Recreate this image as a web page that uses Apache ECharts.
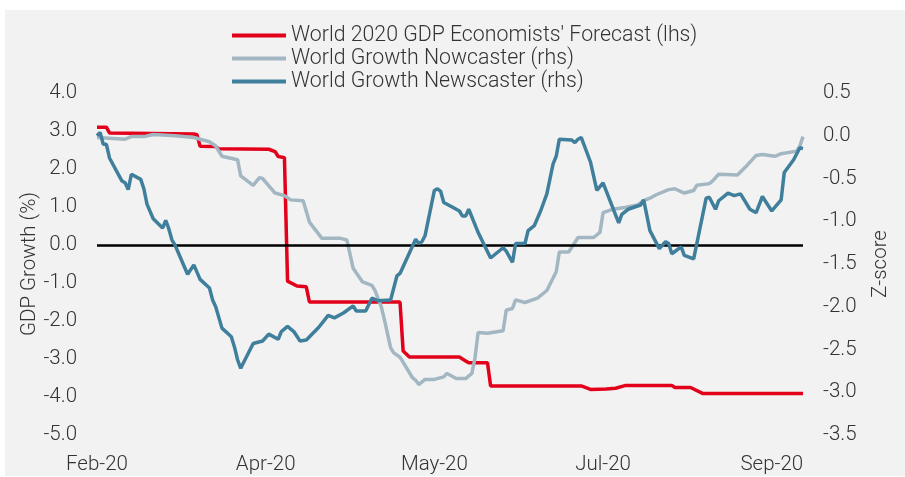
<!DOCTYPE html>
<html>
<head>
<meta charset="utf-8">
<script src="https://cdn.jsdelivr.net/npm/echarts@6/dist/echarts.min.js"></script>
<style>
html,body{margin:0;padding:0;background:#fff;}
#chart{width:905px;height:477px;}
</style>
</head>
<body>
<div id="chart"></div>
<script>
// x values are days counted from the first observation (Feb-20)
const xLabels = ['Feb-20', 'Apr-20', 'May-20', 'Jul-20', 'Sep-20'];
const xLabelDays = [0, 54, 108, 162, 216];
const xMaxDay = 226;

const seriesNames = [
  "World 2020 GDP Economists' Forecast (lhs)",
  'World Growth Nowcaster (rhs)',
  'World Growth Newscaster (rhs)'
];

// GDP growth forecast, % (left axis)
const forecast = [[0,3.10],[3,3.10],[4,2.95],[31,2.92],[32,2.90],[33,2.60],[38,2.59],[39,2.53],[55,2.52],[57,2.46],[58,2.33],[60,2.30],[61,-0.95],[64,-1.08],[67,-1.10],[68,-1.50],[97,-1.50],[98,-2.79],[100,-2.95],[116,-2.95],[118,-3.05],[119,-3.10],[125,-3.10],[126,-3.71],[155,-3.71],[158,-3.80],[163,-3.79],[166,-3.77],[169,-3.70],[184,-3.70],[185,-3.75],[190,-3.75],[194,-3.91],[226,-3.91]];

// Nowcaster z-score (right axis)
const nowcaster = [[0,-0.02],[9,-0.04],[11,-0.01],[15,-0.01],[18,0.015],[25,0.0],[31,-0.02],[36,-0.07],[38,-0.12],[40,-0.24],[45,-0.28],[46,-0.47],[50,-0.58],[52,-0.49],[53,-0.50],[57,-0.67],[60,-0.70],[62,-0.75],[66,-0.76],[68,-1.01],[72,-1.20],[78,-1.20],[80,-1.22],[82,-1.55],[85,-1.71],[88,-1.75],[89,-1.81],[91,-2.00],[92,-2.15],[94,-2.48],[95,-2.54],[97,-2.59],[101,-2.83],[102,-2.86],[103,-2.91],[105,-2.85],[108,-2.85],[111,-2.82],[112,-2.78],[115,-2.84],[118,-2.84],[120,-2.78],[121,-2.60],[122,-2.30],[125,-2.31],[130,-2.28],[131,-2.04],[133,-2.02],[134,-1.92],[137,-1.95],[141,-1.90],[144,-1.81],[147,-1.59],[148,-1.36],[151,-1.36],[154,-1.19],[159,-1.19],[161,-1.13],[162,-0.90],[165,-0.86],[169,-0.84],[173,-0.81],[175,-0.76],[177,-0.73],[179,-0.69],[183,-0.63],[185,-0.62],[188,-0.67],[191,-0.64],[192,-0.58],[196,-0.56],[197,-0.53],[199,-0.45],[205,-0.46],[208,-0.35],[211,-0.23],[213,-0.22],[217,-0.24],[219,-0.21],[224,-0.18],[225,-0.12],[226,-0.01]];

// Newscaster z-score (right axis)
const newscaster = [[0,0.0],[1,0.04],[2,-0.10],[3,-0.10],[4,-0.26],[8,-0.53],[9,-0.55],[10,-0.63],[11,-0.45],[14,-0.51],[15,-0.62],[16,-0.80],[18,-0.97],[21,-1.08],[22,-0.99],[23,-1.09],[24,-1.22],[25,-1.28],[29,-1.62],[31,-1.51],[33,-1.68],[36,-1.78],[37,-1.92],[38,-2.00],[40,-2.25],[43,-2.35],[44,-2.47],[45,-2.62],[46,-2.72],[50,-2.43],[53,-2.40],[55,-2.32],[58,-2.38],[59,-2.29],[61,-2.23],[63,-2.29],[65,-2.40],[67,-2.39],[71,-2.24],[74,-2.10],[76,-2.13],[79,-2.07],[82,-1.99],[83,-2.05],[86,-2.05],[88,-1.90],[90,-1.93],[94,-1.92],[96,-1.64],[97,-1.61],[102,-1.21],[103,-1.26],[104,-1.24],[105,-1.17],[108,-0.64],[109,-0.62],[110,-0.65],[111,-0.78],[114,-0.84],[116,-0.88],[117,-0.94],[118,-0.94],[119,-0.86],[122,-1.13],[124,-1.28],[126,-1.43],[130,-1.31],[131,-1.35],[133,-1.48],[134,-1.26],[137,-1.26],[138,-1.11],[140,-1.05],[142,-0.88],[144,-0.68],[146,-0.33],[147,-0.24],[148,-0.04],[152,-0.05],[153,-0.08],[154,-0.04],[155,-0.02],[158,-0.31],[160,-0.64],[162,-0.55],[167,-1.02],[168,-0.92],[170,-0.86],[174,-0.81],[175,-0.75],[177,-1.11],[180,-1.32],[182,-1.24],[183,-1.26],[184,-1.38],[187,-1.30],[188,-1.40],[191,-1.44],[195,-0.73],[196,-0.72],[198,-0.86],[199,-0.76],[202,-0.67],[204,-0.70],[206,-0.68],[209,-0.86],[211,-0.90],[213,-0.71],[216,-0.88],[219,-0.75],[220,-0.43],[223,-0.28],[225,-0.14],[226,-0.15]];

const FONT = 'Roboto, "Liberation Sans", sans-serif';
const TXT = '#333333';

const chart = echarts.init(document.getElementById('chart'), null, {renderer: 'canvas'});
chart.setOption({
  animation: false,
  backgroundColor: '#ffffff',
  graphic: [{
    type: 'rect', left: 5, top: 10, z: -10,
    shape: {width: 900, height: 466},
    style: {fill: '#f2f2f2'}
  }],
  legend: {
    orient: 'vertical',
    left: 232, top: 24, padding: 0,
    itemWidth: 54, itemHeight: 4, itemGap: 0,
    icon: 'rect',
    data: seriesNames,
    textStyle: {fontFamily: FONT, fontSize: 21.3, fontWeight: 300, color: TXT, lineHeight: 23}
  },
  grid: {left: 97, right: 102, top: 93, bottom: 42, containLabel: false},
  xAxis: {
    type: 'value', min: 0, max: xMaxDay, interval: 54,
    axisLine: {show: false}, axisTick: {show: false}, splitLine: {show: false},
    axisLabel: {
      margin: 19, fontFamily: FONT, fontSize: 20.5, fontWeight: 300, color: TXT,
      showMaxLabel: false,
      formatter: function (v) { const i = xLabelDays.indexOf(v); return i >= 0 ? xLabels[i] : ''; }
    }
  },
  yAxis: [{
    type: 'value', min: -5, max: 4, interval: 1, position: 'left',
    name: 'GDP Growth (%)', nameLocation: 'middle', nameGap: 57, nameRotate: 90,
    nameMoveOverlap: false,
    nameTextStyle: {fontFamily: FONT, fontSize: 20.5, fontWeight: 300, color: TXT},
    axisLine: {show: false}, axisTick: {show: false}, splitLine: {show: false},
    axisLabel: {margin: 20, fontFamily: FONT, fontSize: 20.5, fontWeight: 300, color: TXT,
      formatter: function (v) { return v.toFixed(1); }}
  }, {
    type: 'value', min: -3.5, max: 0.5, interval: 0.5, position: 'right',
    name: 'Z-score', nameLocation: 'middle', nameGap: 67, nameRotate: 90,
    nameMoveOverlap: false,
    nameTextStyle: {fontFamily: FONT, fontSize: 20.5, fontWeight: 300, color: TXT},
    axisLine: {show: false}, axisTick: {show: false}, splitLine: {show: false},
    axisLabel: {margin: 20, fontFamily: FONT, fontSize: 20.5, fontWeight: 300, color: TXT,
      formatter: function (v) { return v.toFixed(1); }}
  }],
  series: [{
    name: seriesNames[0], type: 'line', yAxisIndex: 0, data: forecast,
    showSymbol: false, symbol: 'none', z: 3,
    lineStyle: {color: '#e2001a', width: 3.5}, itemStyle: {color: '#e2001a'},
    markLine: {
      silent: true, symbol: 'none', label: {show: false},
      lineStyle: {color: '#000000', width: 2.5, type: 'solid'},
      data: [{yAxis: 0}]
    }
  }, {
    name: seriesNames[1], type: 'line', yAxisIndex: 1, data: nowcaster,
    showSymbol: false, symbol: 'none', z: 4,
    lineStyle: {color: '#a3b7c3', width: 3.5}, itemStyle: {color: '#a3b7c3'}
  }, {
    name: seriesNames[2], type: 'line', yAxisIndex: 1, data: newscaster,
    showSymbol: false, symbol: 'none', z: 5,
    lineStyle: {color: '#3f7f9c', width: 3.5}, itemStyle: {color: '#3f7f9c'}
  }]
});
</script>
</body>
</html>
